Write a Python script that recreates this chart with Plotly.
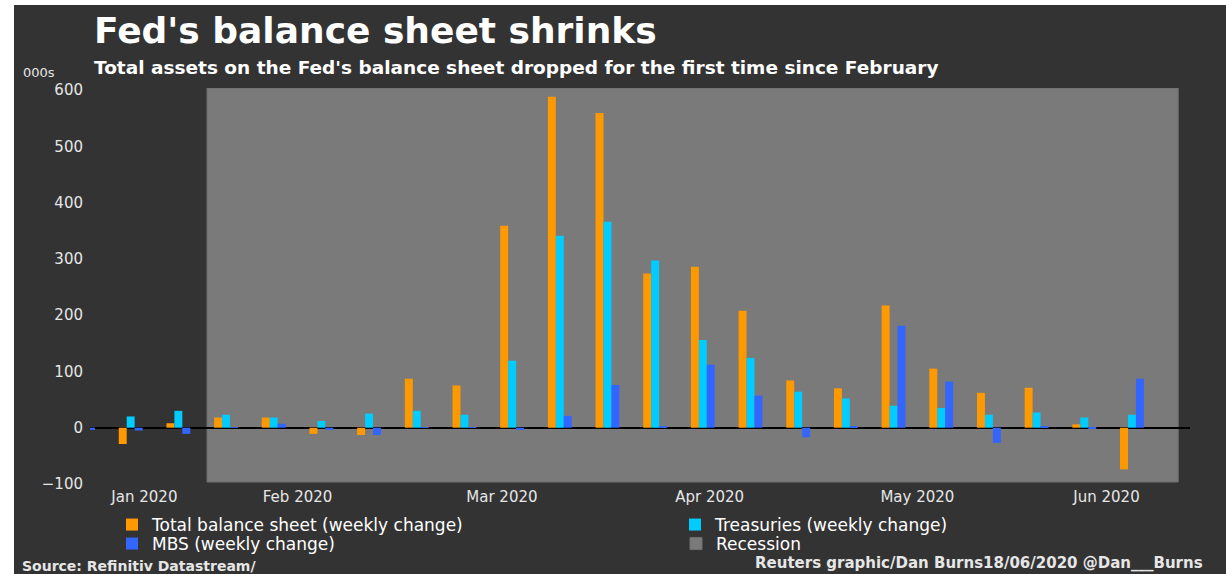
import pandas as pd
import plotly.graph_objects as go

# Weekly changes in Fed balance-sheet items (thousands of millions of dollars)
week_ending = [
    "2020-01-15", "2020-01-22", "2020-01-29", "2020-02-05", "2020-02-12",
    "2020-02-19", "2020-02-26", "2020-03-04", "2020-03-11", "2020-03-18",
    "2020-03-25", "2020-04-01", "2020-04-08", "2020-04-15", "2020-04-22",
    "2020-04-29", "2020-05-06", "2020-05-13", "2020-05-20", "2020-05-27",
    "2020-06-03", "2020-06-10", "2020-06-17",
]
total_change = [None, -29, 8, 18, 18, -11, -13, 87, 75, 359, 588, 559, 274,
                286, 208, 84, 70, 217, 105, 62, 71, 6, -74]
treasuries_change = [None, 20, 30, 23, 18, 12, 25, 30, 23, 119, 341, 366, 297,
                     156, 124, 64, 52, 39, 35, 23, 27, 18, 23]
mbs_change = [-4, -5, -11, 1, 7, -4, -13, 1, 1, -4, 21, 76, 2,
              112, 57, -17, 2, 181, 82, -27, 2, -1, 87]

recession_start = "2020-02-02 05:00"
recession_end = "2020-06-23 19:00"

x_range = ["2020-01-16 00:40", "2020-06-25 12:30"]
y_ticks = [-100, 0, 100, 200, 300, 400, 500, 600]

ORANGE = "#FF9900"
CYAN = "#00CCFF"
BLUE = "#3366FF"
DARK = "#333333"
GREY = "#7A7A7A"
LIGHT = "#E6E6E6"
FONT = "DejaVu Sans"

W, H = 1226, 574
ML, MR, MT, MB = 90, 36, 88, 89
PW, PH = W - ML - MR, H - MT - MB


def px_x(px):
    return (px - ML) / PW


def px_y(py):
    return (H - MB - py) / PH


# Month labels sit in the middle of the visible part of each month
lo, hi = pd.Timestamp(x_range[0]), pd.Timestamp(x_range[1])
month_pos, month_text = [], []
for m in pd.date_range("2020-01-01", "2020-06-01", freq="MS"):
    a = max(m, lo)
    b = min(m + pd.offsets.MonthBegin(1), hi)
    month_pos.append(a + (b - a) / 2)
    month_text.append(m.strftime("%b %Y"))

fig = go.Figure()
fig.add_bar(x=week_ending, y=total_change, name="Total balance sheet (weekly change)",
            marker=dict(color=ORANGE, line=dict(width=0)), legend="legend")
fig.add_bar(x=week_ending, y=treasuries_change, name="Treasuries (weekly change)",
            marker=dict(color=CYAN, line=dict(width=0)), legend="legend2")
fig.add_bar(x=week_ending, y=mbs_change, name="MBS (weekly change)",
            marker=dict(color=BLUE, line=dict(width=0)), legend="legend3")

# dark card with a thin white margin on the left and top
fig.add_shape(type="rect", xref="paper", yref="paper",
              x0=px_x(14), x1=px_x(W + 5), y0=px_y(H + 5), y1=px_y(5),
              fillcolor=DARK, line=dict(width=0), layer="below")
# recession shading
fig.add_shape(type="rect", xref="x", yref="y",
              x0=recession_start, x1=recession_end, y0=-96.5, y1=603.5,
              fillcolor=GREY, line=dict(color="#6E6E6E", width=1), layer="below",
              name="Recession", showlegend=True, legend="legend4")

annotations = [
    dict(text="<b>Fed's balance sheet shrinks</b>", x=px_x(92), y=px_y(30),
         font=dict(size=36, color="white", family=FONT)),
    dict(text="<b>Total assets on the Fed's balance sheet dropped for the first time since February</b>",
         x=px_x(92), y=px_y(68), font=dict(size=18.5, color="white", family=FONT)),
    dict(text="000s", x=px_x(21), y=px_y(73),
         font=dict(size=13, color=LIGHT, family=FONT)),
    dict(text="<b>Source: Refinitiv Datastream/</b>", x=px_x(20), y=px_y(566),
         font=dict(size=14, color=LIGHT, family=FONT)),
    dict(text="<b>Reuters graphic/Dan Burns18/06/2020 @Dan___Burns</b>", x=px_x(1205),
         y=px_y(563), xanchor="right",
         font=dict(size=15, color=LIGHT, family=FONT)),
]
for a in annotations:
    a.setdefault("xanchor", "left")
    fig.add_annotation(xref="paper", yref="paper", yanchor="middle",
                       showarrow=False, **a)

legend_style = dict(orientation="h", xanchor="left", yanchor="middle",
                    bgcolor="rgba(0,0,0,0)",
                    font=dict(size=17, color="white", family=FONT),
                    itemclick=False, itemdoubleclick=False)

fig.update_layout(
    width=W, height=H,
    margin=dict(l=ML, r=MR, t=MT, b=MB),
    paper_bgcolor="white", plot_bgcolor="rgba(0,0,0,0)",
    barmode="group", bargap=0.5, bargroupgap=0,
    font=dict(family=FONT, color=LIGHT),
    showlegend=True,
    legend=dict(x=px_x(112), y=px_y(525), **legend_style),
    legend2=dict(x=px_x(675), y=px_y(525), **legend_style),
    legend3=dict(x=px_x(112), y=px_y(544), **legend_style),
    legend4=dict(x=px_x(676), y=px_y(544), **legend_style),
    annotations=fig.layout.annotations,
    xaxis=dict(
        type="date",
        range=x_range,
        tickvals=month_pos, ticktext=month_text,
        showgrid=False, zeroline=False, showline=False, ticks="",
        tickfont=dict(size=15, color=LIGHT, family=FONT),
        ticklabelstandoff=1,
    ),
    yaxis=dict(
        range=[-101.8, 603.55],
        tickvals=y_ticks,
        showgrid=False, showline=False, ticks="",
        zeroline=True, zerolinecolor="black", zerolinewidth=1.5,
        tickfont=dict(size=15, color=LIGHT, family=FONT),
        ticklabelstandoff=6,
    ),
)

fig.write_html("out.html")
